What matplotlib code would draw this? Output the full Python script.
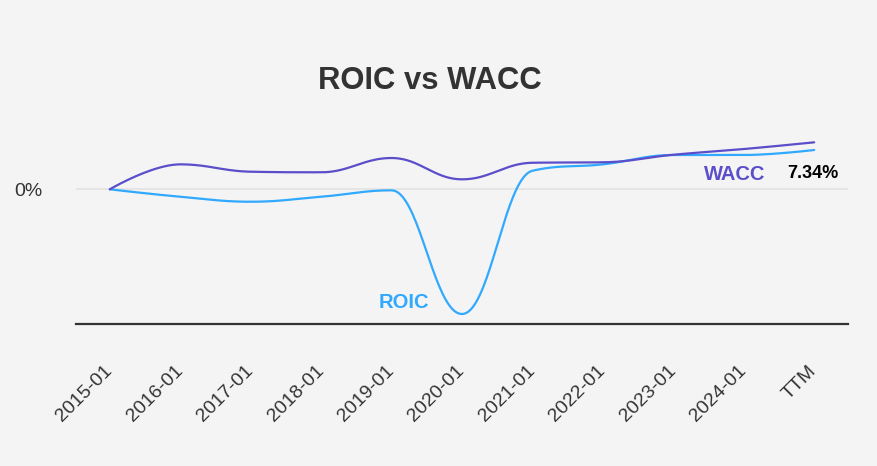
import numpy as np
import matplotlib.pyplot as plt

# values (percent)
periods = ['2015-01', '2016-01', '2017-01', '2018-01', '2019-01', '2020-01',
           '2021-01', '2022-01', '2023-01', '2024-01', 'TTM']
wacc = [0.0, 3.90, 2.75, 2.66, 4.89, 1.56, 4.15, 4.22, 5.40, 6.29, 7.34]
roic = [0.0, -1.16, -1.94, -1.16, -0.16, -19.48, 2.90, 3.90, 5.36, 5.36, 6.14]

wacc_color = '#5B4ECB'
roic_color = '#30A9FF'
text_color = '#333333'
bg = '#F4F4F4'


# Highcharts-style spline: cubic bezier through every point
def spline(xs, ys, steps=40):
    smoothing, denom = 1.5, 2.5
    n = len(xs)
    lcx, lcy = list(xs), list(ys)
    rcx, rcy = list(xs), list(ys)
    for i in range(1, n - 1):
        px, py = xs[i], ys[i]
        lx, ly = xs[i - 1], ys[i - 1]
        nx, ny = xs[i + 1], ys[i + 1]
        a = (smoothing * px + lx) / denom
        b = (smoothing * py + ly) / denom
        c = (smoothing * px + nx) / denom
        d = (smoothing * py + ny) / denom
        corr = (d - b) * (c - px) / (c - a) + py - d
        b += corr
        d += corr
        if b > ly and b > py:
            b = max(ly, py)
            d = 2 * py - b
        elif b < ly and b < py:
            b = min(ly, py)
            d = 2 * py - b
        if d > ny and d > py:
            d = max(ny, py)
            b = 2 * py - d
        elif d < ny and d < py:
            d = min(ny, py)
            b = 2 * py - d
        lcx[i], lcy[i], rcx[i], rcy[i] = a, b, c, d
    t = np.linspace(0, 1, steps)
    outx, outy = [], []
    for i in range(1, n):
        p0 = (xs[i - 1], ys[i - 1])
        p1 = (rcx[i - 1], rcy[i - 1])
        p2 = (lcx[i], lcy[i])
        p3 = (xs[i], ys[i])
        bx = (1 - t) ** 3 * p0[0] + 3 * (1 - t) ** 2 * t * p1[0] + 3 * (1 - t) * t ** 2 * p2[0] + t ** 3 * p3[0]
        by = (1 - t) ** 3 * p0[1] + 3 * (1 - t) ** 2 * t * p1[1] + 3 * (1 - t) * t ** 2 * p2[1] + t ** 3 * p3[1]
        outx.extend(bx)
        outy.extend(by)
    return np.array(outx), np.array(outy)


plt.rcParams['font.family'] = ['Liberation Sans', 'DejaVu Sans']

fig = plt.figure(figsize=(8.77, 4.66), dpi=100, facecolor=bg)
ax = fig.add_axes([76 / 877, 1 - 324 / 466, (848 - 76) / 877, (324 - 110) / 466])
ax.set_facecolor(bg)

x = np.arange(len(periods))

ax.axhline(0, color='#E3E3E3', lw=1.2, zorder=1)

sx, sy = spline(x, roic)
ax.plot(sx, sy, color=roic_color, lw=1.6, zorder=3, solid_capstyle='round')
sx, sy = spline(x, wacc)
ax.plot(sx, sy, color=wacc_color, lw=1.6, zorder=4, solid_capstyle='round')

ax.set_xlim(-0.48, 10.48)
ax.set_ylim(-21.04, 12.39)

for s in ['top', 'right', 'left']:
    ax.spines[s].set_visible(False)
ax.spines['bottom'].set_color('#333333')
ax.spines['bottom'].set_linewidth(1.6)

ax.set_xticks(x)
ax.set_xticklabels(periods, rotation=45, ha='right', va='center',
                   rotation_mode='anchor', fontsize=14, color=text_color)
ax.tick_params(axis='x', length=0, pad=32)
ax.set_yticks([0])
ax.set_yticklabels(['0%'], fontsize=14, color=text_color)
ax.tick_params(axis='y', length=0, pad=24)

# series labels
last = len(periods) - 1
ax.annotate('{:.2f}%'.format(wacc[-1]), xy=(last, wacc[-1]), xytext=(-1, -22.5),
            textcoords='offset points', ha='center', va='center',
            fontsize=13, fontweight='bold', color='black')
ax.annotate('WACC', xy=(last, wacc[-1]), xytext=(-57, -23),
            textcoords='offset points', ha='center', va='center',
            fontsize=14.5, fontweight='bold', color=wacc_color)
imin = int(np.argmin(roic))
ax.annotate('ROIC', xy=(imin, roic[imin]), xytext=(-42, 8.6),
            textcoords='offset points', ha='center', va='center',
            fontsize=14.5, fontweight='bold', color=roic_color)

fig.text(430 / 877, 1 - 89 / 466, 'ROIC vs WACC', ha='center', va='baseline',
         fontsize=22.3, fontweight='bold', color=text_color)

fig.savefig('out.png', dpi=100, facecolor=bg)
